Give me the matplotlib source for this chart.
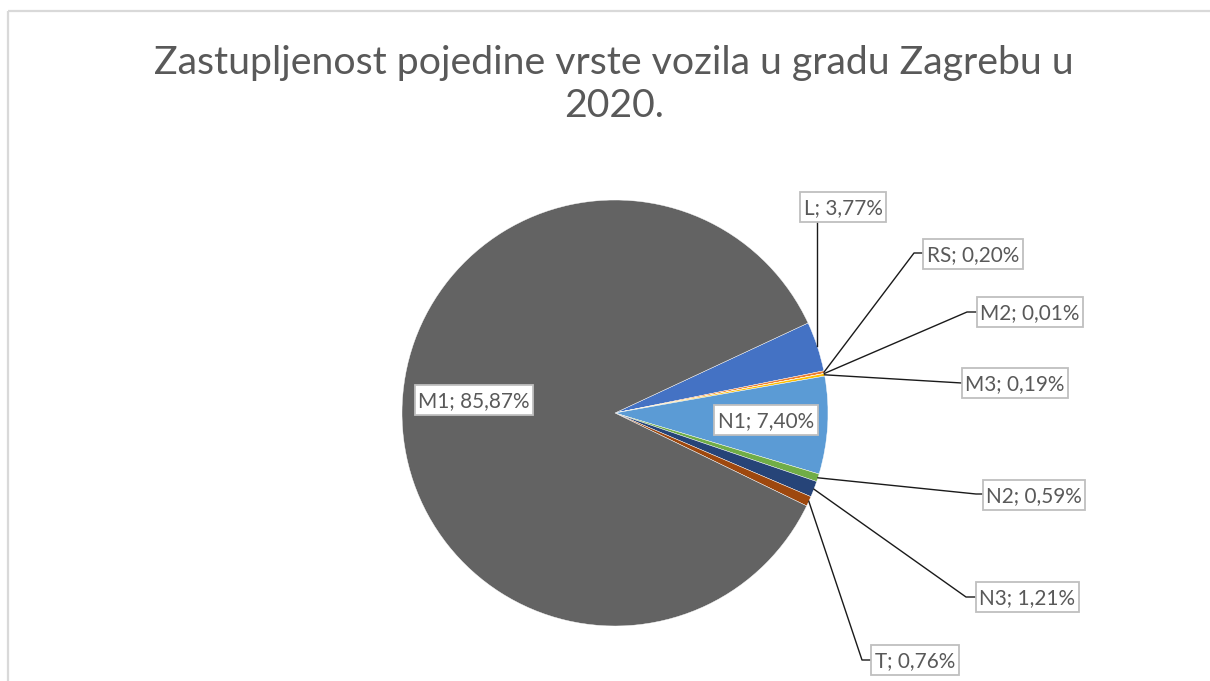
import matplotlib
matplotlib.use("Agg")
import matplotlib.pyplot as plt
from matplotlib.patches import Rectangle
import numpy as np

# ---- data ----
categories = ["L", "RS", "M2", "M3", "N1", "N2", "N3", "T", "M1"]
values = [3.77, 0.20, 0.01, 0.19, 7.40, 0.59, 1.21, 0.76, 85.87]
label_texts = ["L; 3,77%", "RS; 0,20%", "M2; 0,01%", "M3; 0,19%", "N1; 7,40%",
               "N2; 0,59%", "N3; 1,21%", "T; 0,76%", "M1; 85,87%"]
colors = ["#4472C4", "#ED7D31", "#A5A5A5", "#FFC000", "#5B9BD5",
          "#70AD47", "#264478", "#9E480E", "#636363"]
title_lines = ["Zastupljenost pojedine vrste vozila u gradu Zagrebu u", "2020."]

W, H = 1210, 681
FONT = "Lato"
TXT = "#595959"

fig = plt.figure(figsize=(W / 100, H / 100), dpi=100)
ax = fig.add_axes([0, 0, 1, 1])
ax.set_xlim(0, W)
ax.set_ylim(0, H)
ax.set_aspect("equal")
ax.axis("off")

def Y(y):
    return H - y

# chart border
ax.plot([8, W], [Y(11), Y(11)], color="#D9D9D9", lw=1.6, solid_capstyle="butt")
ax.plot([8, 8], [Y(11), 0], color="#D9D9D9", lw=1.6, solid_capstyle="butt")

cx, cy, R = 615, 413, 213
wedges, _ = ax.pie(values, colors=colors, startangle=25.0, counterclock=False,
                   center=(cx, Y(cy)), radius=R, frame=True,
                   wedgeprops=dict(edgecolor="white", linewidth=0.3))
ax.set_xlim(0, W)
ax.set_ylim(0, H)
ax.axis("off")

renderer = fig.canvas.get_renderer()

def fit(t, target_w):
    bb = t.get_window_extent(renderer=renderer)
    t.set_fontsize(t.get_fontsize() * target_w / bb.width)

# title
t1 = ax.text(614, Y(63), title_lines[0], ha="center", va="center",
             fontsize=22, color=TXT, family=FONT)
fit(t1, 918)
t2 = ax.text(614, Y(106), title_lines[1], ha="center", va="center",
             fontsize=t1.get_fontsize(), color=TXT, family=FONT)

# label positions (box centres, pixel coords) and leader line elbows
label_pos = {
    "L": (843, 207), "RS": (973, 254), "M2": (1030, 312), "M3": (1015, 383),
    "N1": (766, 420), "N2": (1034, 495), "N3": (1027, 597), "T": (915, 660),
    "M1": (474, 400),
}
elbow = {
    "L": None, "RS": (914, 253), "M2": (967, 312), "M3": None,
    "N1": None, "N2": (976, 494), "N3": (966, 597), "T": (862, 660),
    "M1": None,
}

# labels (text first, to measure box sizes)
lab_objs = {}
for cat, txt in zip(categories, label_texts):
    lx, ly = label_pos[cat]
    t = ax.text(lx, Y(ly + 1), txt, ha="center", va="center", fontsize=13,
                color=TXT, family=FONT, zorder=6)
    lab_objs[cat] = t
fit(lab_objs["M1"], 111)
fs = lab_objs["M1"].get_fontsize()
box_left = {}
for cat, t in lab_objs.items():
    t.set_fontsize(fs)
    bb = t.get_window_extent(renderer=renderer)
    lx, ly = label_pos[cat]
    bw = bb.width + 7
    bh = 30
    box_left[cat] = lx - bw / 2
    ax.add_patch(Rectangle((lx - bw / 2, Y(ly) - bh / 2), bw, bh, fc="white",
                           ec="#BFBFBF", lw=1.3, zorder=5))

# leader lines
for w, cat in zip(wedges, categories):
    if cat in ("N1", "M1"):
        continue
    mid = np.deg2rad((w.theta1 + w.theta2) / 2)
    ax_ = cx + R * np.cos(mid)
    ay_ = Y(cy) + R * np.sin(mid)
    lx, ly = label_pos[cat]
    if cat == "L":
        xs = [ax_, ax_]
        ys = [ay_, Y(ly + 15)]
    elif elbow[cat] is None:
        xs = [ax_, box_left[cat]]
        ys = [ay_, Y(ly)]
    else:
        ex, ey = elbow[cat]
        xs = [ax_, ex, box_left[cat]]
        ys = [ay_, Y(ey), Y(ey)]
    ax.plot(xs, ys, color="#1a1a1a", lw=1.0, zorder=3)

fig.savefig("out.png", dpi=100, facecolor="white")
